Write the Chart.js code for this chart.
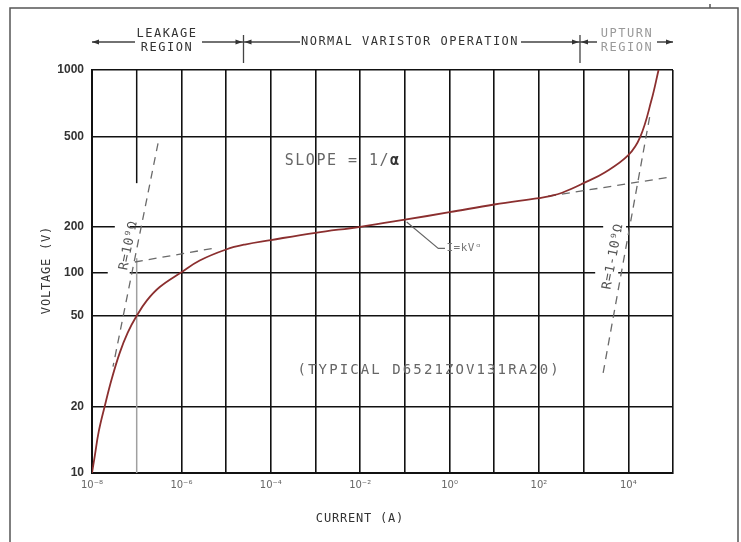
<!DOCTYPE html>
<html lang="en">
<head>
  <meta charset="UTF-8">
  <title>Varistor V-I characteristic</title>
  <script src="https://cdn.jsdelivr.net/npm/chart.js"></script>
  <style>
    body { margin: 0; background: #fff; }
    canvas { display: block; }
  </style>
</head>
<body>
  <canvas id="viChart" width="741" height="542"></canvas>

  <script>
    // current (A) / voltage (V)
    const curveI = [1e-8, 1.15e-8, 1.41e-8, 1.92e-8, 2.76e-8, 4.17e-8, 6.3e-8, 1e-7, 1.68e-7, 3.28e-7, 1e-6, 2.57e-6,
                    1e-5, 2.63e-5, 1e-4, 1e-3, 1e-2, 0.1, 1, 10, 100, 178, 331, 1000, 3040, 1e4, 1.85e4, 3.3e4, 4.75e4];
    const curveV = [10, 11.9, 15.35, 20, 26.4, 34.4, 42.2, 50, 63.7, 79.1, 100, 119.7,
                    141.5, 152.6, 163.4, 182.5, 200, 215, 232, 251, 268, 273.4, 283, 312, 349, 415, 500, 732, 1000];

    // dashed construction lines
    const leakRI = [3.0e-7, 2.95e-8], leakRV = [468, 29.9];     // R = 10^9 ohm
    const leakTanI = [9.1e-8, 5.1e-6], leakTanV = [117, 144];
    const upTanI = [160, 9.5e4], upTanV = [273, 333];
    const upRI = [3.0e4, 2.6e3], upRV = [614, 26.6];            // R = 1-10^9 ohm
    const leaderI = [0.11, 0.56, 0.79], leaderV = [210, 144, 144];

    const xTicks = [1e-8, 1e-7, 1e-6, 1e-5, 1e-4, 1e-3, 1e-2, 1e-1, 1, 10, 100, 1e3, 1e4, 1e5];
    const xTickLabels = ['10⁻⁸', '', '10⁻⁶', '', '10⁻⁴', '', '10⁻²', '', '10⁰', '', '10²', '', '10⁴', ''];
    const yTicks = [10, 20, 50, 100, 200, 500, 1000];
    // the original grid is hand drawn, not a true log spacing
    const yTickFrac = [0, 0.165, 0.39, 0.498, 0.611, 0.834, 1];

    class WarpLogScale extends Chart.LogarithmicScale {
      getPixelForValue(v) {
        let i = 0;
        while (i < yTicks.length - 2 && v > yTicks[i + 1]) i++;
        const a = Math.log10(yTicks[i]), b = Math.log10(yTicks[i + 1]);
        const f = yTickFrac[i] + (Math.log10(v) - a) / (b - a) * (yTickFrac[i + 1] - yTickFrac[i]);
        return this.getPixelForDecimal(f);
      }
      getValueForPixel(p) {
        const f = this.getDecimalForPixel(p);
        let i = 0;
        while (i < yTicks.length - 2 && f > yTickFrac[i + 1]) i++;
        const a = Math.log10(yTicks[i]), b = Math.log10(yTicks[i + 1]);
        return Math.pow(10, a + (f - yTickFrac[i]) / (yTickFrac[i + 1] - yTickFrac[i]) * (b - a));
      }
    }
    WarpLogScale.id = 'warpLog';
    WarpLogScale.defaults = Chart.LogarithmicScale.defaults;
    Chart.register(WarpLogScale);

    const pts = (xs, ys) => xs.map((x, i) => ({ x: x, y: ys[i] }));
    const dashed = (xs, ys) => ({
      data: pts(xs, ys), showLine: true, pointRadius: 0,
      borderColor: '#6a6a6a', borderWidth: 1.3, borderDash: [8, 6]
    });

    const MONO = '"DejaVu Sans Mono", monospace';

    function txt(ctx, s, x, y, size, color, align, spacing) {
      ctx.font = size + 'px ' + MONO;
      ctx.fillStyle = color;
      ctx.textAlign = align || 'center';
      ctx.textBaseline = 'middle';
      ctx.letterSpacing = (spacing == null ? 1.5 : spacing) + 'px';
      ctx.fillText(s, x, y);
      ctx.letterSpacing = '0px';
    }

    function arrow(ctx, x, y, dir) {
      ctx.beginPath();
      ctx.moveTo(x, y);
      ctx.lineTo(x - dir * 7, y - 2.5);
      ctx.lineTo(x - dir * 7, y + 2.5);
      ctx.closePath();
      ctx.fill();
    }

    // label anchors (current, voltage, angle)
    const rLabels = [['R=10⁹Ω', 6.6e-8, 150, -78.5], ['R=1-10⁹Ω', 4570, 127, -79.5]];
    // grid lines broken around those labels: [from I, to I, at V]
    const gridGaps = [[3.24e-8, 6.98e-8, 200], [2.25e-8, 6.98e-8, 100], [2740, 8900, 200], [1815, 5940, 100]];

    const decor = {
      id: 'decor',
      beforeDatasetsDraw(chart) {
        const ctx = chart.ctx, xs = chart.scales.x, ys = chart.scales.y;
        ctx.save();
        ctx.fillStyle = '#fff';
        gridGaps.forEach(([i1, i2, v]) => {
          const x1 = xs.getPixelForValue(i1), x2 = xs.getPixelForValue(i2), y = ys.getPixelForValue(v);
          ctx.fillRect(x1, y - 2, x2 - x1, 4);
        });
        // the 1e-7 grid line: black on top, grey below, broken in between
        const x7 = xs.getPixelForValue(1e-7);
        ctx.lineWidth = 1.5;
        ctx.strokeStyle = '#111';
        ctx.beginPath();
        ctx.moveTo(x7, chart.chartArea.top);
        ctx.lineTo(x7, ys.getPixelForValue(312));
        ctx.stroke();
        ctx.strokeStyle = '#a0a0a0';
        ctx.beginPath();
        ctx.moveTo(x7, ys.getPixelForValue(124));
        ctx.lineTo(x7, chart.chartArea.bottom);
        ctx.stroke();
        ctx.restore();
      },
      afterDatasetsDraw(chart) {
        const ctx = chart.ctx, xs = chart.scales.x, ys = chart.scales.y;
        const area = chart.chartArea;
        ctx.save();

        rLabels.forEach(([s, i, v, a]) => {
          ctx.save();
          ctx.translate(xs.getPixelForValue(i), ys.getPixelForValue(v));
          ctx.rotate(a * Math.PI / 180);
          txt(ctx, s, 0, 0, 13, '#555', 'center', 0.5);
          ctx.restore();
        });

        // in-plot notes
        const sx = xs.getPixelForValue(2.06e-4);
        const sy = ys.getPixelForValue(390);
        txt(ctx, 'SLOPE = 1/', sx, sy, 15, '#666', 'left', 1.5);
        ctx.font = 'bold 15px ' + MONO;
        ctx.letterSpacing = '1.5px';
        const w = ctx.measureText('SLOPE = 1/').width;
        ctx.fillStyle = '#333';
        ctx.fillText('α', sx + w, sy);
        ctx.letterSpacing = '0px';

        txt(ctx, 'I=kVᵅ', xs.getPixelForValue(0.85), ys.getPixelForValue(144), 11, '#777', 'left', 0.5);
        txt(ctx, '(TYPICAL D6521ZOV131RA20)', xs.getPixelForValue(0.35), ys.getPixelForValue(28.9), 14, '#666', 'center', 2.1);

        // region header
        ctx.fillStyle = '#333';
        ctx.strokeStyle = '#444';
        ctx.lineWidth = 1.3;
        const hy = 42;
        const d1 = 243.5, d2 = 580;
        ctx.beginPath();
        ctx.moveTo(area.left, hy); ctx.lineTo(135, hy);
        ctx.moveTo(202, hy); ctx.lineTo(300, hy);
        ctx.moveTo(521, hy); ctx.lineTo(597, hy);
        ctx.moveTo(657, hy); ctx.lineTo(area.right, hy);
        ctx.moveTo(d1, 35); ctx.lineTo(d1, 63);
        ctx.moveTo(d2, 35); ctx.lineTo(d2, 63);
        ctx.stroke();
        arrow(ctx, area.left, hy, -1);
        arrow(ctx, area.right, hy, 1);
        arrow(ctx, d1 - 1, hy, 1); arrow(ctx, d1 + 1, hy, -1);
        arrow(ctx, d2 - 1, hy, 1); arrow(ctx, d2 + 1, hy, -1);

        txt(ctx, 'LEAKAGE', 167, 34, 12, '#333');
        txt(ctx, 'REGION', 167, 48, 12, '#333');
        txt(ctx, 'NORMAL VARISTOR OPERATION', 410, hy, 12, '#333');
        txt(ctx, 'UPTURN', 627, 34, 12, '#999');
        txt(ctx, 'REGION', 627, 48, 12, '#999');

        // axis titles
        txt(ctx, 'CURRENT (A)', 360, 519, 12, '#333', 'center', 0.8);
        ctx.save();
        ctx.translate(47, 270);
        ctx.rotate(-Math.PI / 2);
        txt(ctx, 'VOLTAGE (V)', 0, 0, 12, '#333', 'center', 0.8);
        ctx.restore();

        // outer frame
        ctx.strokeStyle = '#555';
        ctx.lineWidth = 1.5;
        ctx.beginPath();
        ctx.moveTo(10, 560); ctx.lineTo(10, 8); ctx.lineTo(738, 8); ctx.lineTo(738, 560);
        ctx.moveTo(710, 4); ctx.lineTo(710, 8);
        ctx.stroke();
        ctx.restore();
      }
    };

    new Chart(document.getElementById('viChart'), {
      type: 'scatter',
      data: {
        datasets: [
          { data: pts(curveI, curveV), showLine: true, pointRadius: 0, borderColor: '#8b2f2f',
            borderWidth: 1.8, tension: 0.4 },
          dashed(leakRI, leakRV),
          dashed(leakTanI, leakTanV),
          dashed(upTanI, upTanV),
          dashed(upRI, upRV),
          { data: pts(leaderI, leaderV), showLine: true, pointRadius: 0, borderColor: '#666', borderWidth: 1.1 }
        ]
      },
      options: {
        responsive: false,
        animation: false,
        events: [],
        layout: { padding: { left: 0, top: 70, right: 68, bottom: 0 } },
        plugins: { legend: { display: false }, tooltip: { enabled: false } },
        scales: {
          x: {
            type: 'logarithmic',
            min: 1e-8,
            max: 1e5,
            afterBuildTicks: s => { s.ticks = xTicks.map(v => ({ value: v })); },
            afterFit: s => { s.height = 69; },
            ticks: {
              autoSkip: false, maxRotation: 0, padding: 6, color: '#666',
              font: { family: 'DejaVu Sans', size: 10 },
              callback: (v, i) => xTickLabels[i]
            },
            grid: {
              drawTicks: false, lineWidth: 1.6,
              color: c => (c.tick && c.tick.value === 1e-7) ? 'rgba(0,0,0,0)' : '#111'
            },
            border: { display: true, color: '#111', width: 2 }
          },
          y: {
            type: 'warpLog',
            min: 10,
            max: 1000,
            afterBuildTicks: s => { s.ticks = yTicks.map(v => ({ value: v })); },
            afterFit: s => { s.width = 92; },
            ticks: {
              padding: 8, color: '#333',
              font: { family: 'Liberation Sans', size: 12, weight: 'bold' },
              callback: (v, i) => String(yTicks[i])
            },
            grid: { drawTicks: false, lineWidth: 1.6, color: '#111' },
            border: { display: true, color: '#111', width: 2 }
          }
        }
      },
      plugins: [decor]
    });
  </script>
</body>
</html>
